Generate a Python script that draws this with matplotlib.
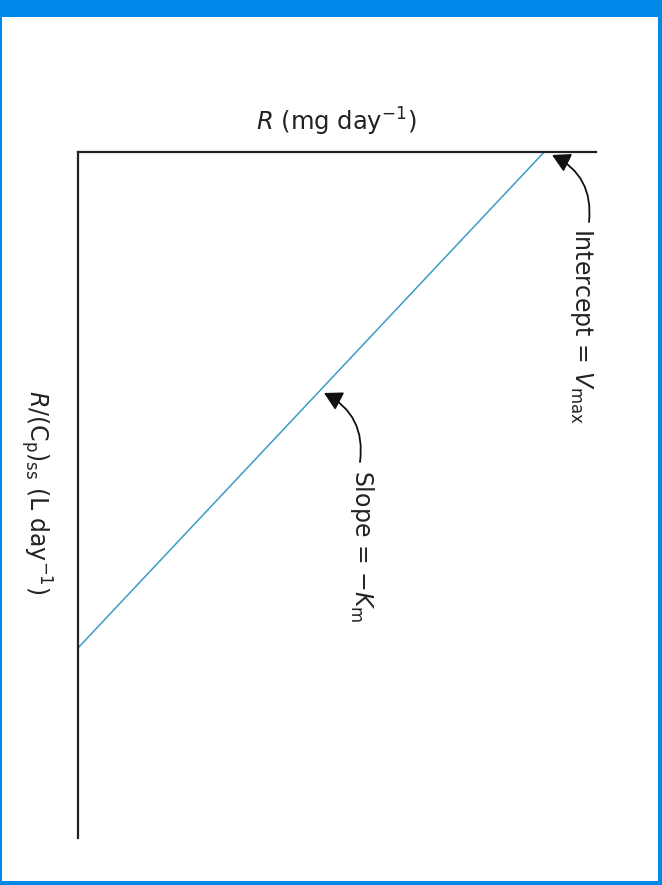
import matplotlib
matplotlib.use("Agg")
import matplotlib.pyplot as plt
from matplotlib.patches import Rectangle, FancyArrowPatch

# Data (schematic Lineweaver-type plot, rotated 90 deg)
vmax = 9.0          # intercept on R axis
x_intercept = 7.23  # intercept on R/(Cp)ss axis
line_x = [0.0, x_intercept]   # R/(Cp)ss
line_r = [vmax, 0.0]          # R

W, H = 662, 885
fig = plt.figure(figsize=(W / 100, H / 100), dpi=100)
plt.rcParams['font.family'] = ['DejaVu Sans']
plt.rcParams['mathtext.fontset'] = 'dejavusans'

def fx(px):
    return px / W

def fy(py):
    return 1 - py / H

# axes: horizontal = R, vertical (downward) = R/(Cp)ss
left, right, top, bottom = 78, 596, 152, 838
ax = fig.add_axes([fx(left), fy(bottom), (right - left) / W, (bottom - top) / H])
ax.set_xlim(0, 10)
ax.set_ylim(10, 0)
for s in ['right', 'bottom']:
    ax.spines[s].set_visible(False)
for s in ['top', 'left']:
    ax.spines[s].set_linewidth(1.6)
    ax.spines[s].set_color('#222222')
ax.set_xticks([])
ax.set_yticks([])
ax.patch.set_alpha(0)

ax.plot(line_r, line_x, color='#3a9cc4', lw=1.1, solid_capstyle='butt')

# labels
fig.text(fx(336), fy(122), r'$R$ (mg day$^{-1}$)', ha='center', va='center',
         fontsize=17.5, color='#222222')
fig.text(fx(36), fy(492), r'$R$/(C$_{\rm p}$)$_{\rm ss}$ (L day$^{-1}$)', ha='center',
         va='center', rotation=-90, fontsize=17, color='#222222')

# annotations
fig.text(fx(582), fy(228), r'Intercept = $V_{\rm max}$', ha='center', va='top',
         rotation=-90, fontsize=17, color='#222222')
fig.text(fx(362), fy(470), r'Slope = $-K_{\rm m}$', ha='center', va='top',
         rotation=-90, fontsize=17, color='#222222')

ap = dict(arrowstyle='-|>,head_length=0.9,head_width=0.5', color='#111111', lw=1.3,
          shrinkA=0, shrinkB=0, mutation_scale=12)
fig.add_artist(FancyArrowPatch(
    (fx(589), fy(222)), (fx(552), fy(155)), transform=fig.transFigure,
    connectionstyle='arc3,rad=0.35', **ap))
fig.add_artist(FancyArrowPatch(
    (fx(360), fy(462)), (fx(324), fy(393)), transform=fig.transFigure,
    connectionstyle='arc3,rad=0.35', **ap))

# blue frame
blue = '#0088e8'
for (x0, y0, w, h) in [(0, 0, W, 17), (0, 0, 1.5, H), (W - 4, 0, 4, H), (0, H - 4, W, 4)]:
    fig.add_artist(Rectangle((fx(x0), fy(y0 + h)), w / W, h / H, transform=fig.transFigure,
                             facecolor=blue, edgecolor='none'))

fig.savefig('out.png', dpi=100)
